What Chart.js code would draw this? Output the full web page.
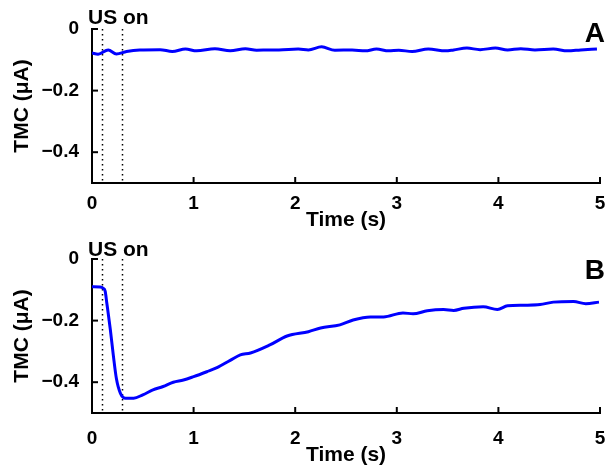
<!DOCTYPE html>
<html>
<head>
<meta charset="utf-8">
<script src="https://cdn.jsdelivr.net/npm/chart.js@4"></script>
<style>
  html, body { margin: 0; padding: 0; background: #fff; }
  body { width: 612px; height: 475px; position: relative; overflow: hidden; }
  .panel { position: absolute; left: 0; }
</style>
</head>
<body>
<div class="panel" style="top:0"><canvas id="chart-a" width="612" height="237"></canvas></div>
<div class="panel" style="top:237px"><canvas id="chart-b" width="612" height="238"></canvas></div>
<script>
// panel A: no response
const timeA = [0, 0.06, 0.16, 0.24, 0.34, 0.47, 0.67, 0.79, 0.92, 1.03, 1.21, 1.36, 1.51, 1.62, 1.75,
  1.84, 2.03, 2.13, 2.26, 2.39, 2.56, 2.69, 2.80, 2.92, 3.02, 3.15, 3.31, 3.48, 3.56, 3.69, 3.82,
  3.97, 4.09, 4.22, 4.36, 4.54, 4.68, 4.81, 4.97];
const tmcA = [-0.078, -0.082, -0.068, -0.081, -0.073, -0.068, -0.067, -0.073, -0.065, -0.071, -0.064,
  -0.071, -0.064, -0.069, -0.068, -0.068, -0.065, -0.068, -0.058, -0.069, -0.068, -0.071, -0.065,
  -0.071, -0.069, -0.073, -0.065, -0.071, -0.068, -0.062, -0.067, -0.062, -0.068, -0.064, -0.068,
  -0.065, -0.071, -0.068, -0.065];

// panel B: drop during ultrasound, slow recovery
const timeB = [0, 0.08, 0.11, 0.13, 0.145, 0.18, 0.21, 0.24, 0.28, 0.33, 0.41, 0.5, 0.6, 0.7, 0.8,
  0.9, 1.0, 1.13, 1.23, 1.36, 1.46, 1.56, 1.75, 1.92, 2.13, 2.25, 2.44, 2.57, 2.74, 2.87, 3.06,
  3.16, 3.3, 3.46, 3.56, 3.66, 3.85, 3.99, 4.09, 4.25, 4.41, 4.54, 4.74, 4.86, 4.99];
const tmcB = [-0.09, -0.091, -0.095, -0.105, -0.141, -0.228, -0.313, -0.388, -0.436, -0.452, -0.452,
  -0.441, -0.425, -0.414, -0.40, -0.393, -0.382, -0.366, -0.353, -0.329, -0.311, -0.305, -0.279,
  -0.25, -0.236, -0.224, -0.214, -0.198, -0.188, -0.188, -0.175, -0.178, -0.168, -0.164, -0.167,
  -0.16, -0.155, -0.164, -0.152, -0.15, -0.148, -0.14, -0.138, -0.145, -0.14];

const usWindow = [0.1, 0.3];
const xTicks = [0, 1, 2, 3, 4, 5];
const yTicks = [-0.4, -0.2, 0];

const FONT = "'Liberation Sans', Arial, Helvetica, sans-serif";

const panelDecor = {
  id: "panelDecor",
  beforeDatasetsDraw(chart) {
    const { ctx, chartArea: a, scales: { x } } = chart;
    ctx.save();
    ctx.strokeStyle = "#000";
    ctx.lineWidth = 1.5;
    ctx.setLineDash([1.5, 3.5]);
    usWindow.forEach(t => {
      const px = Math.round(x.getPixelForValue(t)) + 0.5;
      ctx.beginPath();
      ctx.moveTo(px, a.top);
      ctx.lineTo(px, a.bottom);
      ctx.stroke();
    });
    ctx.restore();
  },
  afterDraw(chart, args, opts) {
    const { ctx, chartArea: a, scales: { x, y } } = chart;
    ctx.save();
    // matlab style inward ticks
    ctx.strokeStyle = "#000";
    ctx.lineWidth = 2;
    xTicks.forEach(t => {
      const px = x.getPixelForValue(t);
      ctx.beginPath();
      ctx.moveTo(px, a.bottom);
      ctx.lineTo(px, a.bottom - 6);
      ctx.stroke();
    });
    yTicks.forEach(v => {
      const py = y.getPixelForValue(v);
      ctx.beginPath();
      ctx.moveTo(a.left, py);
      ctx.lineTo(a.left + 6, py);
      ctx.stroke();
    });
    ctx.fillStyle = "#000";
    ctx.textBaseline = "alphabetic";
    ctx.font = "bold 21px " + FONT;
    ctx.textAlign = "left";
    ctx.fillText("US on", a.left - 4, a.top - opts.usGap);
    ctx.font = "bold 28px " + FONT;
    ctx.textAlign = "right";
    ctx.fillText(opts.letter, a.right + 5, a.top + opts.letterDrop);
    ctx.restore();
  }
};

function makePanel(id, times, values, cfg) {
  const pts = times.map((t, i) => ({ x: t, y: values[i] }));
  return new Chart(document.getElementById(id), {
    type: "line",
    data: {
      datasets: [{
        data: pts,
        borderColor: "#0000ff",
        borderWidth: 3,
        pointRadius: 0,
        cubicInterpolationMode: "monotone",
        fill: false
      }]
    },
    options: {
      responsive: false,
      animation: false,
      events: [],
      layout: { padding: { top: cfg.top, right: 12, left: 0, bottom: 0 } },
      plugins: {
        legend: { display: false },
        tooltip: { enabled: false },
        panelDecor: { letter: cfg.letter, letterDrop: cfg.letterDrop, usGap: cfg.usGap }
      },
      scales: {
        x: {
          type: "linear",
          min: 0,
          max: 5,
          afterFit: s => { s.height = cfg.xHeight; },
          afterBuildTicks: s => { s.ticks = xTicks.map(v => ({ value: v })); },
          grid: { display: false },
          border: { display: true, color: "#000", width: 2 },
          ticks: {
            color: "#000",
            padding: cfg.xPad,
            maxRotation: 0,
            font: { family: FONT, size: 19, weight: "bold" },
            callback: v => String(v)
          },
          title: {
            display: true,
            text: "Time (s)",
            color: "#000",
            padding: { top: 0, bottom: cfg.titlePad },
            font: { family: FONT, size: 21, weight: "bold" }
          }
        },
        y: {
          min: -0.5,
          max: 0,
          afterFit: s => { s.width = 92; },
          afterBuildTicks: s => { s.ticks = yTicks.map(v => ({ value: v })); },
          grid: { display: false },
          border: { display: true, color: "#000", width: 2 },
          ticks: {
            color: "#000",
            padding: 5,
            font: { family: FONT, size: 19, weight: "bold" },
            callback: v => (v === 0 ? "0" : "\u2212" + Math.abs(v).toFixed(1))
          },
          title: {
            display: true,
            text: "TMC (\u03bcA)",
            color: "#000",
            padding: { top: 10, bottom: 0 },
            font: { family: FONT, size: 21, weight: "bold" }
          }
        }
      }
    },
    plugins: [panelDecor]
  });
}

makePanel("chart-a", timeA, tmcA, { top: 29, xHeight: 54, xPad: 1, titlePad: 4, letter: "A", letterDrop: 13, usGap: 5 });
makePanel("chart-b", timeB, tmcB, { top: 22, xHeight: 62, xPad: 6, titlePad: 7, letter: "B", letterDrop: 20, usGap: 3 });
</script>
</body>
</html>
